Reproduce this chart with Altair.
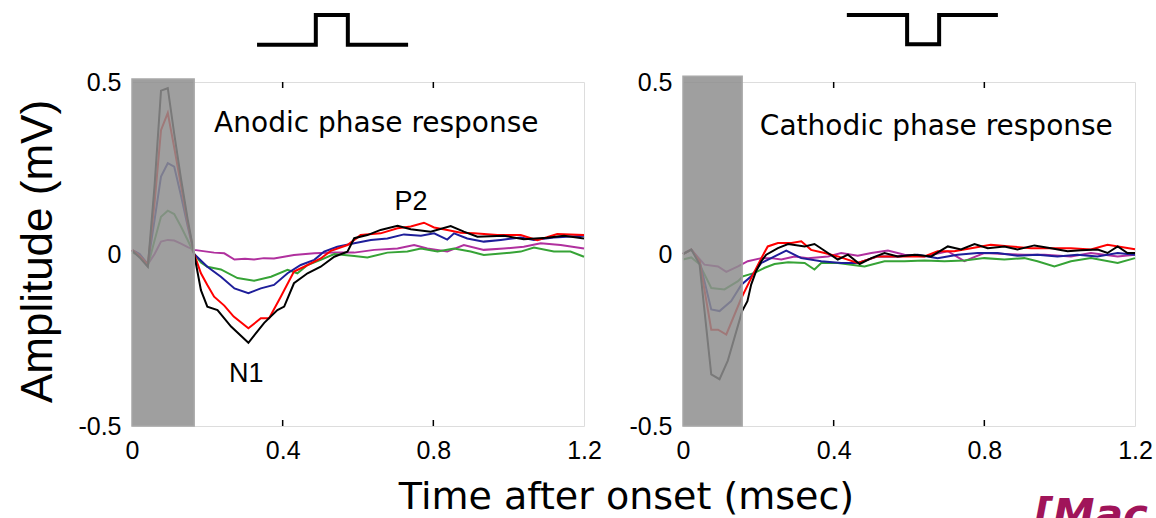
import altair as alt
import pandas as pd

# ---------------- data (time in ms, amplitude in mV) ----------------
SERIES = ["magenta", "green", "blue", "red", "black"]
COLORS = ["#b0309e", "#36a336", "#1e1e9a", "#ff0000", "#000000"]

L_BLACK = [(0, 0.01), (0.02, -0.01), (0.042, -0.037), (0.06, 0.2), (0.077, 0.475), (0.095, 0.482),
           (0.112, 0.35), (0.13, 0.22), (0.148, 0.1), (0.165, 0.0), (0.183, -0.105), (0.2, -0.153),
           (0.227, -0.163), (0.263, -0.211), (0.309, -0.258), (0.351, -0.2), (0.386, -0.163),
           (0.404, -0.153), (0.43, -0.085), (0.466, -0.056), (0.501, -0.037), (0.537, -0.008),
           (0.572, 0.007), (0.59, 0.046), (0.625, 0.055), (0.66, 0.07), (0.705, 0.082), (0.74, 0.072),
           (0.793, 0.065), (0.846, 0.081), (0.881, 0.065), (0.917, 0.05), (0.987, 0.053), (1.04, 0.043),
           (1.102, 0.047), (1.147, 0.053), (1.2, 0.045)]
L_RED = [(0, 0.012), (0.02, -0.005), (0.042, -0.03), (0.06, 0.15), (0.077, 0.36), (0.095, 0.41),
         (0.112, 0.31), (0.13, 0.2), (0.148, 0.09), (0.165, 0.0), (0.183, -0.056), (0.2, -0.09),
         (0.218, -0.124), (0.245, -0.15), (0.27, -0.182), (0.309, -0.216), (0.342, -0.187),
         (0.364, -0.187), (0.395, -0.124), (0.43, -0.051), (0.457, -0.037), (0.501, -0.013),
         (0.528, 0.009), (0.572, 0.026), (0.607, 0.055), (0.66, 0.06), (0.705, 0.075), (0.74, 0.08),
         (0.775, 0.091), (0.802, 0.077), (0.837, 0.07), (0.873, 0.062), (0.908, 0.06), (0.97, 0.055),
         (1.032, 0.055), (1.076, 0.04), (1.129, 0.058), (1.2, 0.055)]
L_BLUE = [(0, 0.012), (0.02, 0.0), (0.042, -0.03), (0.06, 0.1), (0.077, 0.225), (0.095, 0.264),
          (0.112, 0.254), (0.13, 0.17), (0.148, 0.08), (0.165, 0.0), (0.2, -0.037), (0.236, -0.066),
          (0.272, -0.1), (0.309, -0.114), (0.342, -0.1), (0.377, -0.09), (0.413, -0.056),
          (0.448, -0.032), (0.484, -0.017), (0.51, 0.007), (0.545, 0.021), (0.59, 0.031),
          (0.634, 0.041), (0.678, 0.045), (0.722, 0.057), (0.767, 0.053), (0.802, 0.06),
          (0.837, 0.042), (0.855, 0.06), (0.89, 0.045), (0.934, 0.036), (0.979, 0.041),
          (1.032, 0.048), (1.067, 0.041), (1.12, 0.048), (1.2, 0.053)]
L_GREEN = [(0, 0.005), (0.02, -0.005), (0.042, -0.035), (0.06, 0.04), (0.077, 0.108), (0.095, 0.126),
           (0.112, 0.116), (0.13, 0.08), (0.148, 0.04), (0.165, 0.0), (0.183, -0.025), (0.2, -0.037),
           (0.236, -0.045), (0.28, -0.07), (0.324, -0.078), (0.369, -0.066), (0.413, -0.046),
           (0.439, -0.056), (0.466, -0.032), (0.501, -0.017), (0.537, 0.0), (0.59, -0.006),
           (0.625, -0.01), (0.678, 0.004), (0.731, 0.007), (0.767, 0.016), (0.811, 0.007),
           (0.855, 0.016), (0.899, 0.007), (0.934, -0.003), (0.987, 0.002), (1.032, 0.007),
           (1.067, 0.019), (1.12, 0.007), (1.164, 0.007), (1.2, -0.008)]
L_MAGENTA = [(0, 0.012), (0.02, 0.0), (0.042, -0.03), (0.06, 0.0), (0.077, 0.036), (0.095, 0.041),
             (0.112, 0.039), (0.13, 0.03), (0.148, 0.02), (0.165, 0.012), (0.218, 0.004),
             (0.245, 0.002), (0.272, -0.016), (0.3, -0.014), (0.324, -0.016), (0.35, -0.012),
             (0.377, -0.013), (0.43, -0.003), (0.484, 0.002), (0.537, 0.004), (0.59, 0.004),
             (0.643, 0.012), (0.705, 0.016), (0.749, 0.026), (0.784, 0.016), (0.837, 0.007),
             (0.881, 0.026), (0.934, 0.012), (0.987, 0.016), (1.04, 0.021), (1.085, 0.031),
             (1.138, 0.026), (1.2, 0.016)]

R_BLACK = [(0, 0.0), (0.022, 0.013), (0.044, -0.03), (0.075, -0.35), (0.097, -0.364), (0.119, -0.31),
           (0.157, -0.166), (0.171, -0.137), (0.181, -0.089), (0.194, -0.05), (0.208, -0.021),
           (0.221, -0.002), (0.252, 0.017), (0.279, 0.029), (0.323, 0.022), (0.349, 0.029),
           (0.385, 0.003), (0.411, -0.016), (0.438, -0.002), (0.469, -0.029), (0.5, -0.012),
           (0.535, 0.003), (0.57, -0.007), (0.615, -0.002), (0.659, -0.007), (0.703, 0.022),
           (0.738, 0.013), (0.774, 0.029), (0.809, 0.017), (0.853, 0.022), (0.888, 0.013),
           (0.933, 0.025), (0.977, 0.017), (1.021, 0.008), (1.056, 0.011), (1.101, 0.013),
           (1.127, 0.003), (1.154, 0.022), (1.18, 0.003), (1.2, 0.003)]
R_RED = [(0, 0.0), (0.022, 0.013), (0.044, -0.02), (0.075, -0.22), (0.093, -0.22), (0.115, -0.234),
         (0.155, -0.128), (0.181, -0.07), (0.208, -0.012), (0.225, 0.022), (0.252, 0.032),
         (0.288, 0.032), (0.314, 0.037), (0.34, 0.012), (0.376, 0.003), (0.411, -0.007),
         (0.464, -0.026), (0.517, -0.007), (0.588, -0.007), (0.641, -0.007), (0.676, 0.008),
         (0.72, 0.008), (0.765, 0.017), (0.817, 0.027), (0.87, 0.022), (0.924, 0.017),
         (0.977, 0.017), (1.03, 0.017), (1.083, 0.013), (1.127, 0.027), (1.2, 0.014)]
R_BLUE = [(0, 0.0), (0.022, 0.013), (0.044, -0.02), (0.075, -0.161), (0.097, -0.166), (0.128, -0.137),
          (0.155, -0.089), (0.181, -0.065), (0.208, -0.026), (0.234, -0.012), (0.274, 0.01),
          (0.314, -0.012), (0.367, -0.021), (0.42, -0.026), (0.464, -0.026), (0.517, -0.007),
          (0.57, -0.007), (0.623, -0.002), (0.676, -0.012), (0.729, -0.002), (0.782, 0.003),
          (0.835, 0.003), (0.888, -0.005), (0.941, -0.002), (0.994, -0.007), (1.047, -0.002),
          (1.1, -0.007), (1.154, 0.003), (1.2, -0.002)]
R_GREEN = [(0, -0.016), (0.022, -0.01), (0.044, -0.03), (0.075, -0.099), (0.11, -0.103),
           (0.146, -0.079), (0.159, -0.065), (0.19, -0.055), (0.217, -0.04), (0.243, -0.029),
           (0.279, -0.024), (0.323, -0.026), (0.349, -0.045), (0.367, -0.026), (0.411, -0.026),
           (0.482, -0.036), (0.535, -0.021), (0.588, -0.021), (0.641, -0.019), (0.694, -0.021),
           (0.747, -0.019), (0.8, -0.012), (0.853, -0.016), (0.906, -0.012), (0.941, -0.021),
           (0.986, -0.036), (1.03, -0.021), (1.083, -0.012), (1.154, -0.026), (1.2, -0.012)]
R_MAGENTA = [(0, 0.0), (0.022, 0.013), (0.057, -0.031), (0.093, -0.036), (0.115, -0.052),
             (0.146, -0.036), (0.172, -0.021), (0.208, -0.012), (0.234, -0.012), (0.261, -0.016),
             (0.296, -0.007), (0.332, -0.012), (0.385, -0.007), (0.42, 0.003), (0.464, -0.005),
             (0.5, 0.003), (0.544, 0.01), (0.588, -0.002), (0.641, -0.007), (0.703, 0.008),
             (0.747, -0.021), (0.8, 0.003), (0.853, 0.0), (0.906, -0.002), (0.96, -0.002),
             (1.03, -0.007), (1.083, 0.003), (1.154, -0.007), (1.2, -0.002)]

# stimulus-artifact window (shaded) : [t_end, top]
L_GRAY = (0.165, 0.509)
R_GRAY = (0.157, 0.517)

# stimulus pulse schematics (time, level)
L_PULSE_T = [0.332, 0.488, 0.488, 0.573, 0.573, 0.733]
L_PULSE_A = [0.608, 0.608, 0.695, 0.695, 0.608, 0.608]
R_PULSE_T = [0.435, 0.595, 0.595, 0.68, 0.68, 0.836]
R_PULSE_A = [0.695, 0.695, 0.61, 0.61, 0.695, 0.695]

X_TICKS = [0, 0.4, 0.8, 1.2]
Y_TICKS = [-0.5, 0, 0.5]
INNER_TICKS = [0.4, 0.8]

W, H = 452, 344


def traces(pairs):
    rows = []
    for name, pts in pairs:
        for t, a in pts:
            rows.append({"series": name, "t": t, "a": a})
    return pd.DataFrame(rows)


def panel(series_pairs, gray, pulse_t, pulse_a, title_txt, title_pos, peak_labels, first, extra_text=None):
    xkw = dict(values=X_TICKS, format=".1~f", labelPadding=12, labelFlush=False,
               labelFont="Liberation Sans", labelFontSize=25, labelColor="black",
               domain=False, ticks=False, grid=False)
    ykw = dict(values=Y_TICKS, format=".1~f", labelPadding=11, labelFlush=False,
               labelFont="Liberation Sans", labelFontSize=25, labelColor="black",
               labelExpr="datum.value == -0.5 ? '-0.5\u00a0' : datum.label",
               domain=False, ticks=False, grid=False)
    if first:
        xkw.update(title="Time after onset (msec)", titleFont="DejaVu Sans", titleFontSize=38,
                   titleFontWeight="normal", titleColor="black", titleX=494, titleY=82,
                   titleAlign="center", titleBaseline="alphabetic", titleAngle=0)
        ykw.update(title="Amplitude (mV)", titleFont="Liberation Sans", titleFontSize=44,
                   titleFontWeight="normal", titleColor="black", titleX=-81, titleY=169,
                   titleAlign="center", titleBaseline="alphabetic", titleAngle=270)
    else:
        xkw["title"] = None
        ykw["title"] = None

    X = alt.X("t:Q", scale=alt.Scale(domain=[0, 1.2], nice=False, zero=False), axis=alt.Axis(**xkw))
    Y = alt.Y("a:Q", scale=alt.Scale(domain=[-0.5, 0.5], nice=False, zero=False), axis=alt.Axis(**ykw))

    lines = alt.Chart(traces(series_pairs)).mark_line(strokeWidth=2).encode(
        x=X, y=Y,
        color=alt.Color("series:N", scale=alt.Scale(domain=SERIES, range=COLORS), legend=None),
        detail="series:N",
    )

    box = alt.Chart(pd.DataFrame({"t": [0], "t2": [gray[0]], "a": [-0.5], "a2": [gray[1]]})).mark_rect(
        fill="#8e8e8e", fillOpacity=0.85, stroke="#a8a8a8", strokeWidth=1.5
    ).encode(x=X, x2="t2:Q", y=Y, y2="a2:Q")

    ticks_df = pd.DataFrame({"t": INNER_TICKS})
    top_ticks = alt.Chart(ticks_df).mark_rule(color="black", strokeWidth=1.5).encode(
        x=X, y=alt.value(0), y2=alt.value(6))
    bot_ticks = alt.Chart(ticks_df).mark_rule(color="black", strokeWidth=1.5).encode(
        x=X, y=alt.value(H), y2=alt.value(H - 6))

    pulse = alt.Chart(pd.DataFrame({"t": pulse_t, "a": pulse_a, "i": list(range(len(pulse_t)))})).mark_line(
        color="black", strokeWidth=4, strokeJoin="miter"
    ).encode(x=X, y=Y, order="i:Q")

    ttl = alt.Chart(pd.DataFrame({"t": [title_pos[0]], "a": [title_pos[1]], "label": [title_txt]})).mark_text(
        align="left", baseline="alphabetic", font="DejaVu Sans", fontSize=28, color="black"
    ).encode(x=X, y=Y, text="label:N")

    layers = [lines, box, top_ticks, bot_ticks, pulse, ttl]

    if peak_labels:
        pk = alt.Chart(pd.DataFrame(peak_labels, columns=["label", "t", "a"])).mark_text(
            align="center", baseline="alphabetic", font="Liberation Sans", fontSize=27, color="black"
        ).encode(x=X, y=Y, text="label:N")
        layers.append(pk)

    if extra_text:
        et = alt.Chart(pd.DataFrame([extra_text], columns=["label", "t", "a"])).mark_text(
            align="left", baseline="alphabetic", font="DejaVu Sans", fontSize=42, fontWeight="bold",
            fontStyle="italic", color="#a0145a", limit=128, ellipsis="\u200b"
        ).encode(x=X, y=Y, text="label:N")
        layers.append(et)

    return alt.layer(*layers).properties(width=W, height=H)


left = panel(
    [("magenta", L_MAGENTA), ("green", L_GREEN), ("blue", L_BLUE), ("red", L_RED), ("black", L_BLACK)],
    L_GRAY, L_PULSE_T, L_PULSE_A, "Anodic phase response", (0.218, 0.355),
    [("P2", 0.741, 0.128), ("N1", 0.303, -0.372)], True,
)
right = panel(
    [("magenta", R_MAGENTA), ("green", R_GREEN), ("blue", R_BLUE), ("red", R_RED), ("black", R_BLACK)],
    R_GRAY, R_PULSE_T, R_PULSE_A, "Cathodic phase response", (0.204, 0.346),
    None, False, extra_text=("[Macherey et al. 2008]", 0.931, -0.80),
)

chart = alt.hconcat(left, right, spacing=99, bounds="flush").properties(
    padding={"left": 15, "top": 6, "right": 0, "bottom": 0}
).configure_view(stroke="black", strokeWidth=1.5).configure(background="white")

chart.save("out.html", embed_options={"renderer": "svg", "actions": False})
